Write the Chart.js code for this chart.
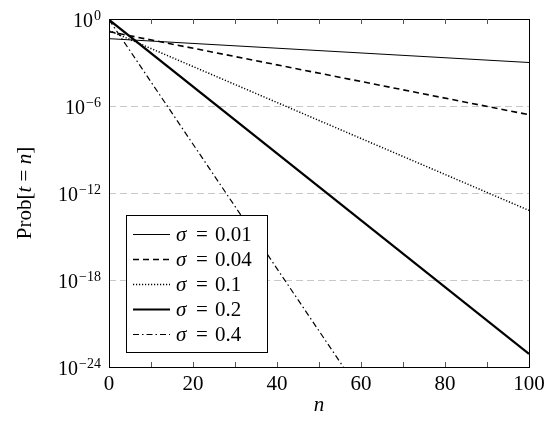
<!DOCTYPE html>
<html>
<head>
<meta charset="utf-8">
<script src="https://cdn.jsdelivr.net/npm/chart.js@4/dist/chart.umd.min.js"></script>
<style>
  body { margin: 0; background: #fff; }
  canvas { display: block; }
</style>
</head>
<body>
<canvas id="myChart" width="550" height="422"></canvas>
<script>
'use strict';

// data (straight lines on the log axis)
var sigmas = ['0.01', '0.04', '0.1', '0.2', '0.4'];
var nPoints = [[0, 100], [0, 100], [0, 100], [0, 100], [0, 55.8]];
var probValues = [
  [4.4e-2, 1.0e-3],
  [1.35e-1, 2.5e-7],
  [1.6e-1, 6.3e-14],
  [8.9e-1, 7.9e-24],
  [9.0e-1, 1.0e-24]
];
var xTickLabels = [0, 20, 40, 60, 80, 100];
var xMinorTicks = [10, 20, 30, 40, 50, 60, 70, 80, 90];
var yExponents = [0, -6, -12, -18, -24];

var styles = [
  { width: 1.0, dash: [] },
  { width: 1.6, dash: [6, 4] },
  { width: 1.5, dash: [1.2, 1.8] },
  { width: 2.2, dash: [] },
  { width: 1.2, dash: [6, 3, 1.5, 3] }
];

var SERIF = '"Liberation Serif", "DejaVu Serif", serif';

var datasets = sigmas.map(function(s, i) {
  return {
    label: 'σ = ' + s,
    data: nPoints[i].map(function(n, j) { return { x: n, y: probValues[i][j] }; }),
    borderColor: '#000',
    borderWidth: styles[i].width,
    borderDash: styles[i].dash,
    pointRadius: 0,
    tension: 0,
    fill: false
  };
});

var gridValues = [1e-6, 1e-12, 1e-18];

var decorations = {
  id: 'decorations',
  afterDatasetsDraw: function(chart) {
    var ctx = chart.ctx;
    var a = chart.chartArea;
    var xs = chart.scales.x;
    var ys = chart.scales.y;
    ctx.save();

    // frame
    ctx.strokeStyle = '#000';
    ctx.lineWidth = 1;
    ctx.setLineDash([]);
    ctx.strokeRect(Math.round(a.left) + 0.5, Math.round(a.top) + 0.5,
      Math.round(a.right - a.left), Math.round(a.bottom - a.top));

    // inner ticks on x (top and bottom)
    ctx.strokeStyle = '#555';
    ctx.beginPath();
    xMinorTicks.forEach(function(v) {
      var px = Math.round(xs.getPixelForValue(v)) + 0.5;
      ctx.moveTo(px, a.bottom); ctx.lineTo(px, a.bottom - 5);
      ctx.moveTo(px, a.top); ctx.lineTo(px, a.top + 5);
    });
    ctx.stroke();

    // x tick labels
    ctx.fillStyle = '#000';
    ctx.font = '21px ' + SERIF;
    ctx.textAlign = 'center';
    ctx.textBaseline = 'alphabetic';
    xTickLabels.forEach(function(v) {
      ctx.fillText(String(v), xs.getPixelForValue(v), a.bottom + 23);
    });

    // y tick labels 10^k
    yExponents.forEach(function(k) {
      var py = ys.getPixelForValue(Math.pow(10, k));
      var expText = k === 0 ? '0' : '\u2212' + String(-k);
      ctx.font = '14px ' + SERIF;
      var ew = ctx.measureText(expText).width;
      ctx.textAlign = 'right';
      ctx.fillText(expText, 101, py + 1);
      ctx.font = '20px ' + SERIF;
      ctx.fillText('10', 101 - ew - 1, py + 8);
    });

    // x title
    ctx.font = 'italic 21px ' + SERIF;
    ctx.textAlign = 'center';
    ctx.fillText('n', (a.left + a.right) / 2, 411);

    // y title
    ctx.save();
    ctx.translate(31, (a.top + a.bottom) / 2);
    ctx.rotate(-Math.PI / 2);
    var parts = [
      ['Prob[', false], ['t', true], [' = ', false], ['n', true], [']', false]
    ];
    var total = 0;
    parts.forEach(function(p) {
      ctx.font = (p[1] ? 'italic ' : '') + '21px ' + SERIF;
      total += ctx.measureText(p[0]).width;
    });
    var cx = -total / 2;
    ctx.textAlign = 'left';
    parts.forEach(function(p) {
      ctx.font = (p[1] ? 'italic ' : '') + '21px ' + SERIF;
      ctx.fillText(p[0], cx, 0);
      cx += ctx.measureText(p[0]).width;
    });
    ctx.restore();

    // legend box
    var bx = 126, by = 215, bw = 141, bh = 137;
    ctx.fillStyle = '#fff';
    ctx.fillRect(bx, by, bw, bh);
    ctx.strokeStyle = '#000';
    ctx.lineWidth = 1;
    ctx.strokeRect(bx + 0.5, by + 0.5, bw, bh);
    chart.data.datasets.forEach(function(ds, i) {
      var ly = by + 19.5 + i * 25;
      ctx.beginPath();
      ctx.lineWidth = ds.borderWidth;
      ctx.setLineDash(ds.borderDash);
      ctx.strokeStyle = '#000';
      ctx.moveTo(bx + 7, ly);
      ctx.lineTo(bx + 44, ly);
      ctx.stroke();
      ctx.setLineDash([]);
      ctx.fillStyle = '#000';
      ctx.textAlign = 'left';
      ctx.font = 'italic 21px ' + SERIF;
      ctx.fillText('σ', bx + 50, ly + 6);
      ctx.font = '21px ' + SERIF;
      ctx.fillText('=', bx + 70, ly + 6);
      ctx.fillText(sigmas[i], bx + 89, ly + 6);
    });

    ctx.restore();
  }
};

var chart = new Chart(document.getElementById('myChart').getContext('2d'), {
  type: 'line',
  data: { datasets: datasets },
  options: {
    responsive: false,
    animation: false,
    layout: { padding: { top: 19, right: 21, left: 0, bottom: 0 } },
    plugins: { legend: { display: false }, tooltip: { enabled: false } },
    scales: {
      x: {
        type: 'linear', min: 0, max: 100,
        ticks: { display: false, stepSize: 10 },
        grid: { display: false },
        border: { display: false },
        afterFit: function(s) { s.height = 55; }
      },
      y: {
        type: 'logarithmic', min: 1e-24, max: 1,
        afterBuildTicks: function(s) {
          s.ticks = yExponents.map(function(k) { return { value: Math.pow(10, k) }; });
        },
        ticks: { display: false },
        grid: {
          drawTicks: false,
          lineWidth: 1,
          color: function(c) {
            var v = c.tick && c.tick.value;
            return gridValues.some(function(g) { return Math.abs(v / g - 1) < 1e-6; }) ? '#c8c8c8' : 'rgba(0,0,0,0)';
          }
        },
        border: { display: false, dash: [7, 4] },
        afterFit: function(s) { s.width = 109; }
      }
    }
  },
  plugins: [decorations]
});
</script>
</body>
</html>
